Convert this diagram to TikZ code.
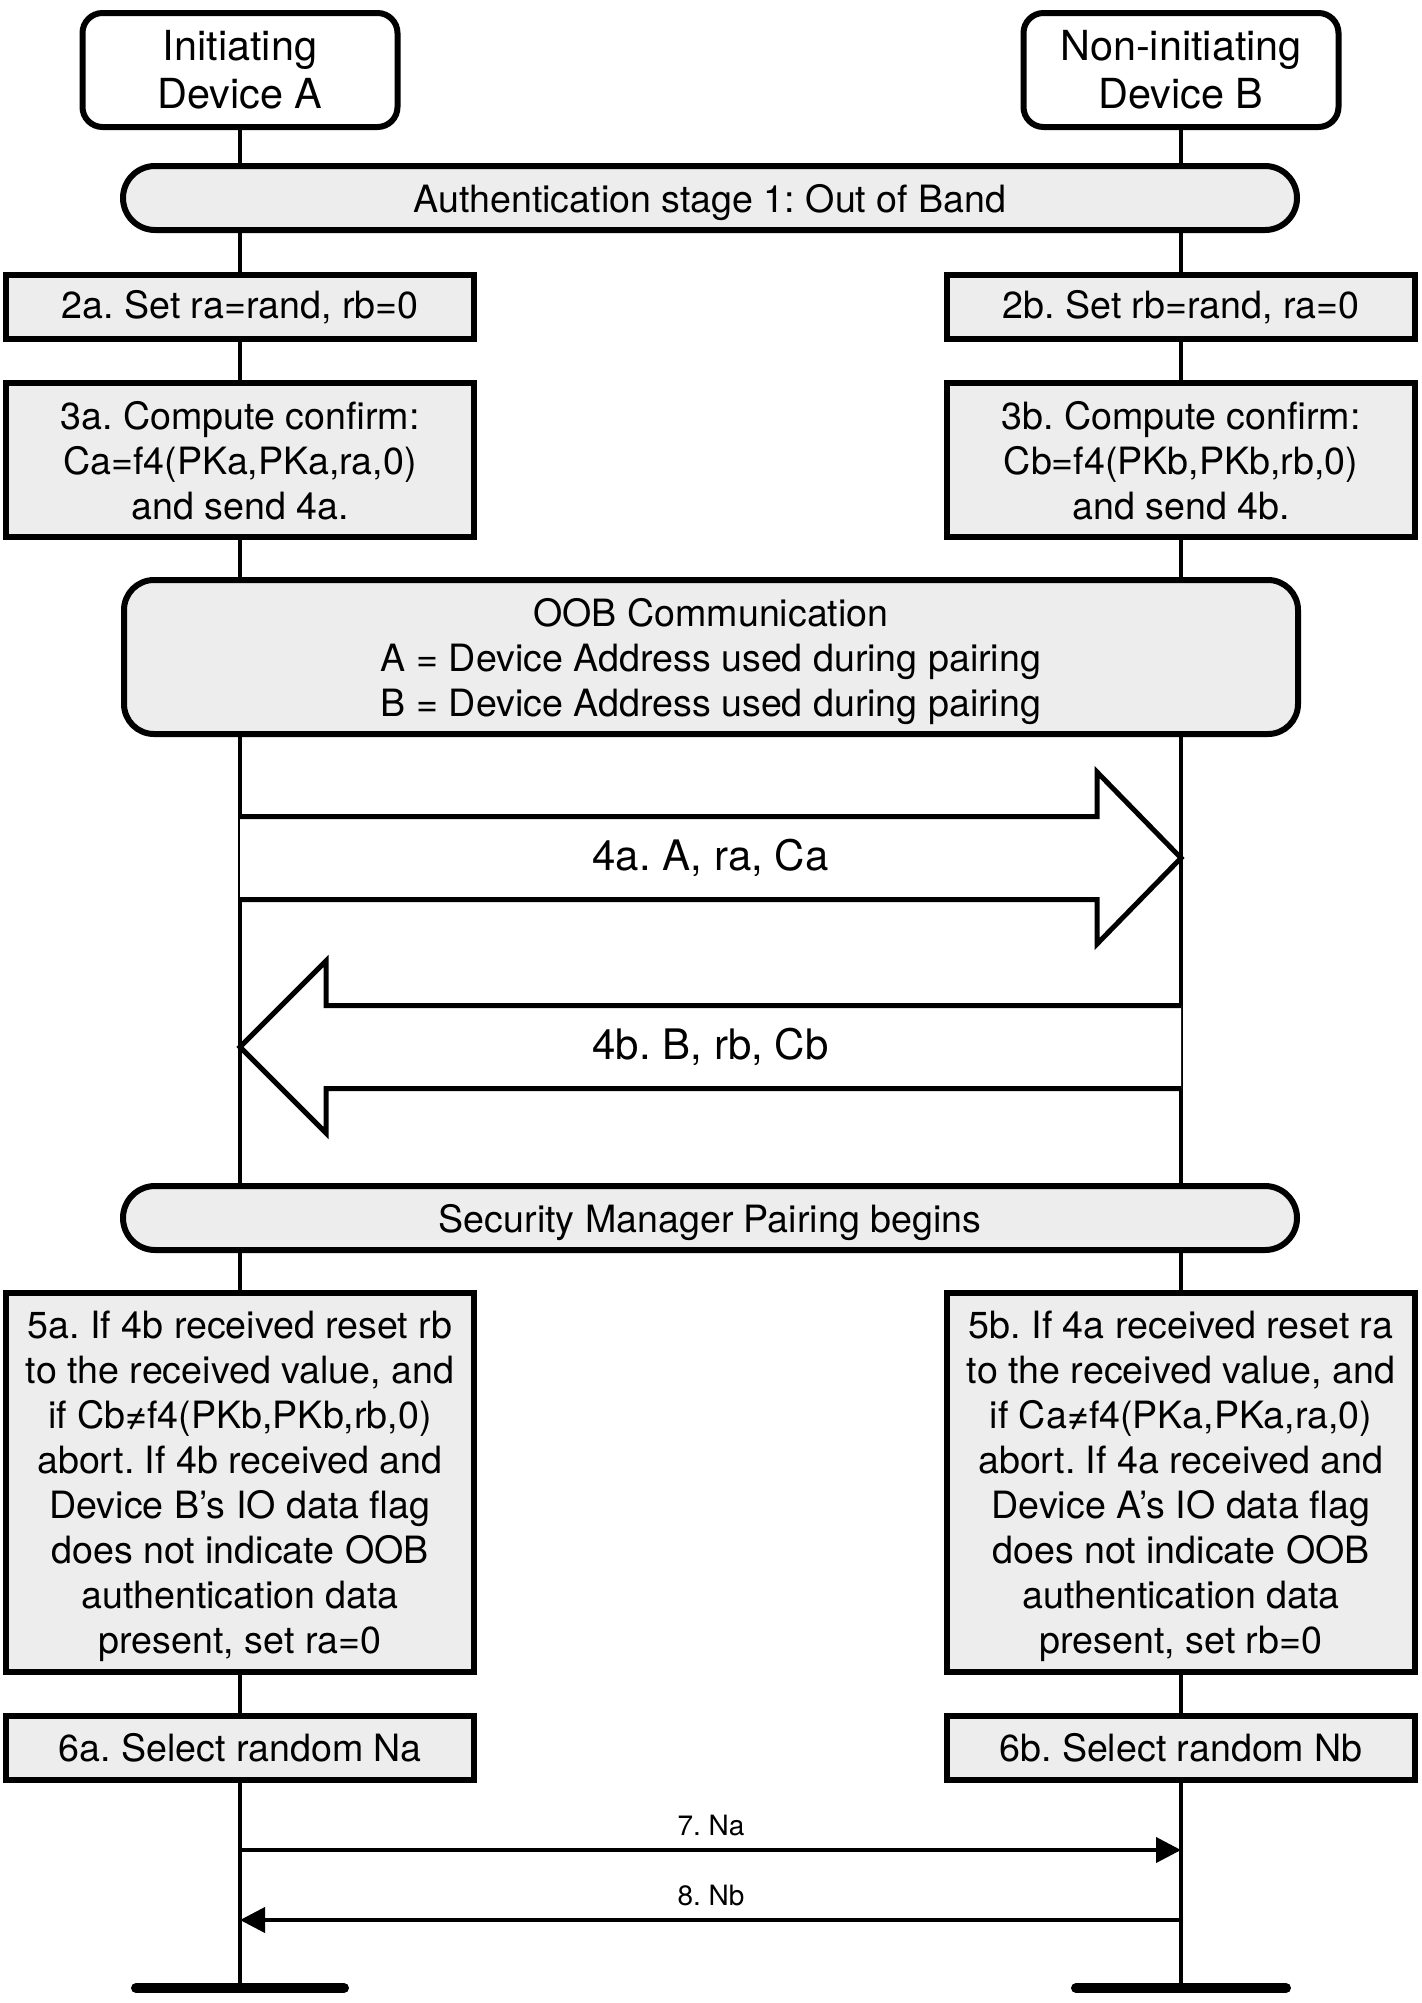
\documentclass[tikz,border=0pt]{standalone}
\usepackage{fontspec}
\setmainfont{TeX Gyre Heros}
\usetikzlibrary{arrows.meta,backgrounds,calc}
\definecolor{boxgray}{RGB}{237,237,237}
\frenchspacing
\begin{document}
\begin{tikzpicture}[x=0.5pt,y=-0.5pt,
  devbox/.style={draw, line width=3pt, rounded corners=10pt, fill=white,
    minimum width=157.5pt, minimum height=57pt, inner sep=0pt, align=center,
    font=\fontsize{20.7}{24}\selectfont},
  stepbox/.style={draw, line width=3pt, fill=boxgray, minimum width=234pt,
    inner sep=0pt, align=center, font=\fontsize{18.8}{22.5}\selectfont},
  tallbox/.style={stepbox, text depth=0pt},
  phasebox/.style={draw, line width=3pt, fill=boxgray, rounded corners=16pt,
    minimum width=587pt, minimum height=32pt, inner sep=0pt, align=center,
    text depth=0pt, font=\fontsize{18.8}{22.5}\selectfont},
  lifeline/.style={line width=2pt},
  endbar/.style={line width=5pt, line cap=round},
  bigarrow/.style={line width=2.5pt, fill=white, line join=miter},
  biglabel/.style={font=\fontsize{21}{25}\selectfont, inner sep=0pt},
  msg/.style={line width=2pt, -{Triangle[length=12.5pt,width=12.5pt]}},
  msglabel/.style={font=\fontsize{14}{17}\selectfont, inner sep=0pt}
]
\useasboundingbox (0,0) rectangle (1422,2003);

% devices
\node[devbox] (devA) at (240,70) {Initiating\\Device A};
\node[devbox] (devB) at (1181,70) {Non-initiating\\Device B};

% stage 1
\node[phasebox] (auth) at (710,198) {Authentication stage 1: Out of Band};

% step 2
\node[stepbox, minimum height=32pt] (s2a) at (240,307) {2a. Set ra=rand, rb=0};
\node[stepbox, minimum height=32pt] (s2b) at (1181,307) {2b. Set rb=rand, ra=0};

% step 3
\node[tallbox, minimum height=77pt] (s3a) at (240,460) {3a. Compute confirm:\\Ca=f4(PKa,PKa,ra,0)\\and send 4a.};
\node[tallbox, minimum height=77pt] (s3b) at (1181,460) {3b. Compute confirm:\\Cb=f4(PKb,PKb,rb,0)\\and send 4b.};

% OOB
\node[phasebox, rounded corners=15pt, minimum height=77pt] (oob) at (711,657)
  {OOB Communication\\A = Device Address used during pairing\\B = Device Address used during pairing};

% lifeline anchor coordinates
\coordinate (endA) at (240,1988);
\coordinate (endB) at (1181,1988);
\coordinate (m4aL) at (240,858);
\coordinate (m4aR) at (1181,858);
\coordinate (m4bL) at (240,1047);
\coordinate (m4bR) at (1181,1047);

% 4a big arrow
\draw[bigarrow] ($(m4aL)+(0,-41.5)$) -- ($(m4aR)+(-84,-41.5)$) -- ($(m4aR)+(-84,-86)$)
  -- (m4aR) -- ($(m4aR)+(-84,86)$) -- ($(m4aR)+(-84,41.5)$) -- ($(m4aL)+(0,41.5)$);
\node[biglabel] (l4a) at ($(m4aL)!0.5!(m4aR)$) {4a. A, ra, Ca};

% 4b big arrow
\draw[bigarrow] ($(m4bR)+(0,-41.5)$) -- ($(m4bL)+(86,-41.5)$) -- ($(m4bL)+(86,-86)$)
  -- (m4bL) -- ($(m4bL)+(86,86)$) -- ($(m4bL)+(86,41.5)$) -- ($(m4bR)+(0,41.5)$);
\node[biglabel] (l4b) at ($(m4bL)!0.5!(m4bR)$) {4b. B, rb, Cb};

% security manager
\node[phasebox] (smp) at (710,1218) {Security Manager Pairing begins};

% step 5
\node[tallbox, minimum height=189.5pt] (s5a) at (240,1482.5)
  {5a. If 4b received reset rb\\to the received value, and\\if Cb≠f4(PKb,PKb,rb,0)\\abort. If 4b received and\\Device B’s IO data flag\\does not indicate OOB\\authentication data\\present, set ra=0};
\node[tallbox, minimum height=189.5pt] (s5b) at (1181,1482.5)
  {5b. If 4a received reset ra\\to the received value, and\\if Ca≠f4(PKa,PKa,ra,0)\\abort. If 4a received and\\Device A’s IO data flag\\does not indicate OOB\\authentication data\\present, set rb=0};

% step 6
\node[stepbox, minimum height=32pt] (s6a) at (240,1748) {6a. Select random Na};
\node[stepbox, minimum height=32pt] (s6b) at (1181,1748) {6b. Select random Nb};

% messages 7, 8
\coordinate (m7a) at (240,1850);
\coordinate (m7b) at (1181,1850);
\coordinate (m8a) at (240,1920);
\coordinate (m8b) at (1181,1920);
\draw[msg] (m7a) -- (m7b);
\node[msglabel] (l7) at (711,1825) {7. Na};
\draw[msg] (m8b) -- (m8a);
\node[msglabel] (l8) at (711,1895) {8. Nb};

% lifelines
\begin{pgfonlayer}{background}
\draw[lifeline] (devA.south) -- (endA);
\draw[lifeline] (devB.south) -- (endB);
\end{pgfonlayer}

% end bars
\draw[endbar] ($(endA)+(-104,0)$) -- ($(endA)+(104,0)$);
\draw[endbar] ($(endB)+(-105,0)$) -- ($(endB)+(105,0)$);
\end{tikzpicture}
\end{document}
